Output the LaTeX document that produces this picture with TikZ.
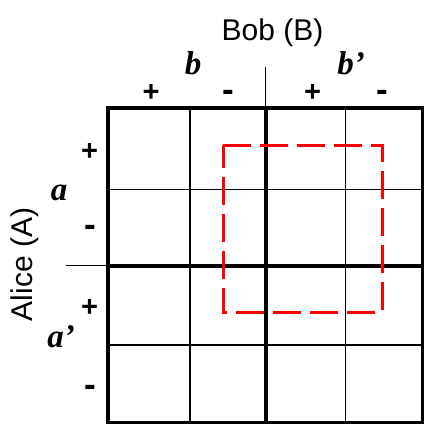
\documentclass[tikz,border=0pt]{standalone}
\usepackage{fontspec}
\setmainfont{Liberation Sans}
\newfontfamily\tmsfont{Liberation Serif}
\begin{document}
\begin{tikzpicture}[x=1pt,y=-1pt,
  thinln/.style={line width=1.3pt},
  thickln/.style={line width=4pt},
  pm/.style={font=\fontsize{29}{32}\selectfont\bfseries, anchor=base, inner sep=0pt},
  mn/.style={font=\fontsize{35}{38}\selectfont\bfseries, anchor=base, inner sep=0pt},
  var/.style={font=\tmsfont\fontsize{33}{36}\selectfont\bfseries\itshape, anchor=base, inner sep=0pt},
  lbl/.style={font=\fontsize{30}{34}\selectfont, anchor=base, inner sep=0pt},
  region/.style={draw=red, line width=3pt, dash pattern=on 28pt off 9pt}]
\useasboundingbox[fill=white] (0,0) rectangle (424,424);
% thin lines
\draw[thinln] (190,108) -- (190,422.5);
\draw[thinln] (345.5,108) -- (345.5,422.5);
\draw[thinln] (108,189.5) -- (422.5,189.5);
\draw[thinln] (108,345) -- (422.5,345);
% ticks
\draw[thinln] (265.5,67) -- (265.5,108);
\draw[thinln] (66,265.5) -- (108,265.5);
% thick lines
\draw[thickln] (265.5,108) -- (265.5,422.5);
\draw[thickln] (108,265.5) -- (422.5,265.5);
\draw[thickln] (108,108) rectangle (422.5,422.5);
% red dashed region
\draw[region] (223,145) -- (382,145) -- (382,312) -- (223,312) -- cycle;
% labels
\node[lbl] (bob) at (272.5,40) {Bob (B)};
\node[lbl, rotate=90] (alice) at (33,264.5) {Alice (A)};
\node[var] (b) at (193,74) {b};
\node[var] (bp) at (351,74) {b’};
\node[var] (a) at (59,200) {a};
\node[var] (ap) at (61,347) {a’};
% header signs
\node[pm] (h1) at (151,101) {+};
\node[mn] (h2) at (228.5,101) {-};
\node[pm] (h3) at (312.5,101) {+};
\node[mn] (h4) at (382.5,101) {-};
% side signs
\node[pm] (s1) at (89.5,160) {+};
\node[mn] (s2) at (90,236) {-};
\node[pm] (s3) at (89.5,316) {+};
\node[mn] (s4) at (90,396) {-};
\end{tikzpicture}
\end{document}
